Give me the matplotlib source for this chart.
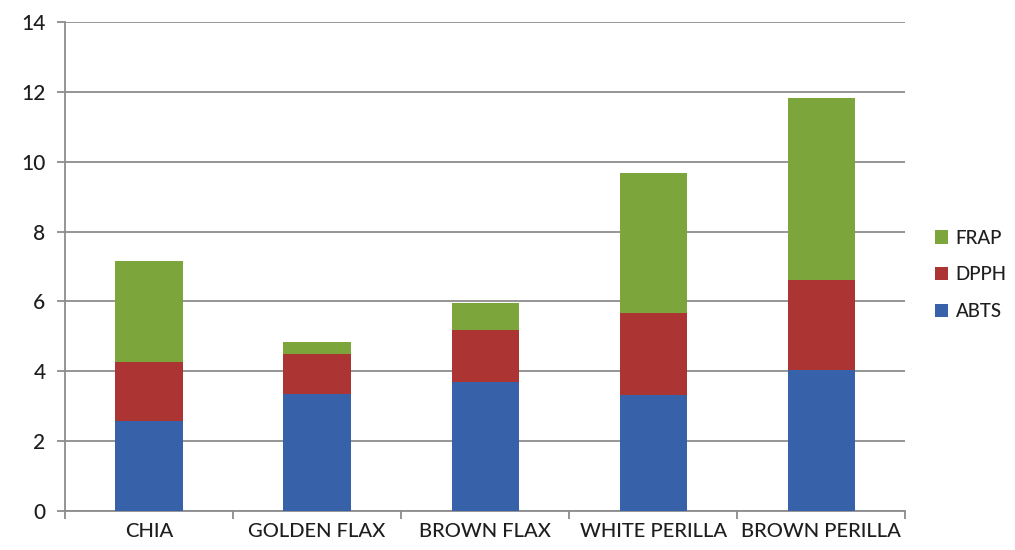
import numpy as np
import matplotlib
matplotlib.use("Agg")
import matplotlib.pyplot as plt

plt.rcParams['font.family'] = ['Lato', 'DejaVu Sans']

samples = ["CHIA", "GOLDEN FLAX", "BROWN FLAX", "WHITE PERILLA", "BROWN PERILLA"]
abts = [2.58, 3.36, 3.68, 3.33, 4.04]
dpph = [1.69, 1.14, 1.50, 2.34, 2.56]
frap = [2.89, 0.33, 0.77, 4.01, 5.21]

c_abts = "#3762a9"
c_dpph = "#ac3533"
c_frap = "#7ca53c"
grid_c = "#8c8c8c"
txt_c = "#1e1e1e"

fig = plt.figure(figsize=(10.15, 5.5), dpi=100)
ax = fig.add_axes([0.064, 0.071, 0.828, 0.889])

x = np.arange(len(samples))
w = 0.4
b1 = ax.bar(x, abts, w, color=c_abts, label="ABTS", zorder=3)
bottom2 = np.array(abts)
b2 = ax.bar(x, dpph, w, bottom=bottom2, color=c_dpph, label="DPPH", zorder=3)
bottom3 = bottom2 + np.array(dpph)
b3 = ax.bar(x, frap, w, bottom=bottom3, color=c_frap, label="FRAP", zorder=3)

ax.set_xlim(-0.5, len(samples) - 0.5)
ax.set_ylim(0, 14)
ax.set_yticks(np.arange(0, 15, 2))
ax.yaxis.grid(True, color=grid_c, linewidth=1.3, zorder=0)

# category labels centred, ticks on slot boundaries
ax.set_xticks(x)
ax.set_xticklabels(samples, fontsize=14.5, color=txt_c, fontweight='medium')
ax.tick_params(axis='x', which='major', length=0, pad=9)
ax.set_xticks(np.arange(-0.5, len(samples), 1), minor=True)
ax.tick_params(axis='x', which='minor', length=6, width=1.3, color=grid_c, direction='out')
ax.tick_params(axis='y', length=6, width=1.3, color=grid_c, labelsize=15, labelcolor=txt_c, pad=8)
for t in ax.get_yticklabels():
    t.set_fontweight('medium')

for s in ['top', 'right']:
    ax.spines[s].set_visible(False)
for s in ['left', 'bottom']:
    ax.spines[s].set_color(grid_c)
    ax.spines[s].set_linewidth(1.3)

leg = ax.legend([b3, b2, b1], ["FRAP", "DPPH", "ABTS"], loc='center left',
                bbox_to_anchor=(1.015, 0.483), frameon=False, fontsize=13.5,
                handlelength=0.7, handleheight=0.7, handletextpad=0.4, labelspacing=1.05)
for t in leg.get_texts():
    t.set_color(txt_c)
    t.set_fontweight('medium')

fig.savefig("out.png", dpi=100)
